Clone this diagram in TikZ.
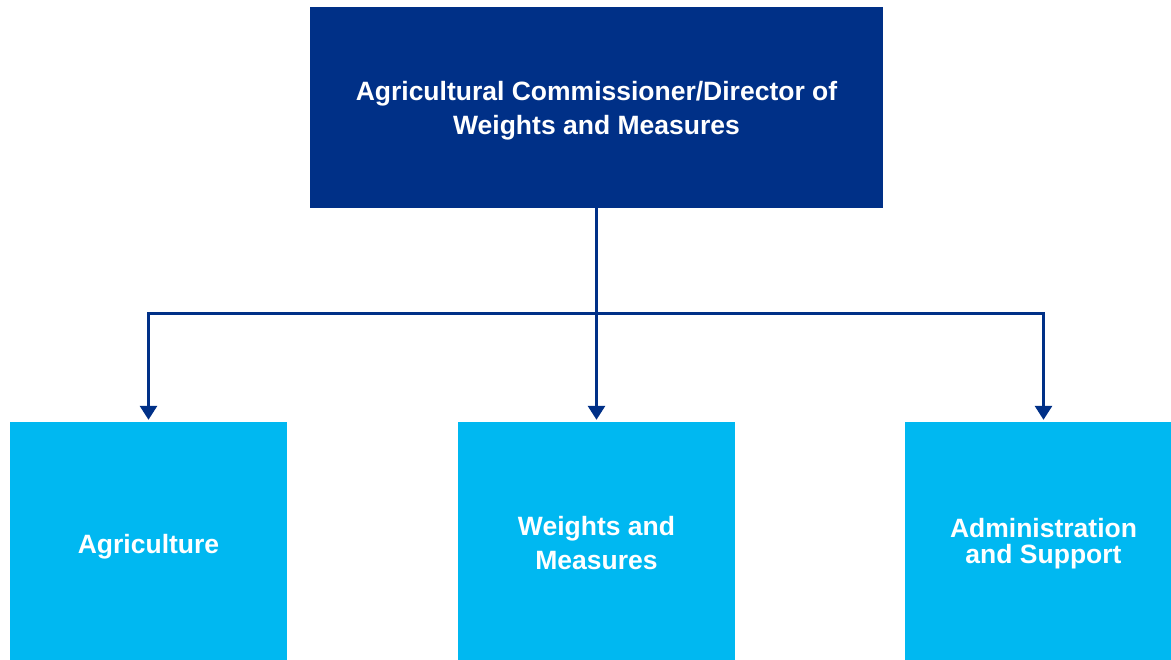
\documentclass[tikz,border=0pt]{standalone}
\usepackage{fontspec}
\setmainfont{Liberation Sans}
\usetikzlibrary{arrows.meta,positioning}

\definecolor{HeadBlue}{HTML}{003087}
\definecolor{UnitBlue}{HTML}{00B8F1}

\begin{document}
\begin{tikzpicture}[x=1pt,y=1pt]
			\tikzstyle{Head}	= [rectangle, fill=HeadBlue, minimum width=573pt, minimum height=201pt, inner sep=0pt]
			\tikzstyle{Unit}	= [rectangle, fill=UnitBlue, minimum width=277pt, minimum height=238pt, inner sep=0pt]
			\tikzstyle{Label}	= [text=white, font=\bfseries\fontsize{26.5}{34}\selectfont, align=center, inner sep=0pt]
			\tikzstyle{Link}	= [HeadBlue, line width=3pt, -{Triangle[width=17pt,length=14pt]}, shorten >=2pt]
			
			\useasboundingbox (0,0) rectangle (1171,-660);
			\clip (0,0) rectangle (1171,-660);
			
			\node (boss) at (596.5,-107.5) [Head] {};
			\node (agri) at (148.5,-541) [Unit] {};
			\node (wm) at (596.5,-541) [Unit] {};
			\node (admin) at (1043.5,-541) [Unit] {};
			
			\node (boss-t) at ([yshift=-3pt]boss.center) [Label] {Agricultural Commissioner/Director of\\Weights and Measures};
			\node (agri-t) at ([yshift=-6pt]agri.center) [Label] {Agriculture};
			\node (wm-t) at ([yshift=-2pt]wm.center) [Label] {Weights and\\Measures};
			\node (admin-t) at ([yshift=-3pt]admin.center) [Label, font=\bfseries\fontsize{26.5}{26}\selectfont] {Administration\\and Support};
			
			\coordinate (split) at (596.5,-314);
			
			\draw [Link] (boss) to (wm);
			\draw [Link] (split) -| (agri);
			\draw [Link] (split) -| (admin);
		\end{tikzpicture}
\end{document}
